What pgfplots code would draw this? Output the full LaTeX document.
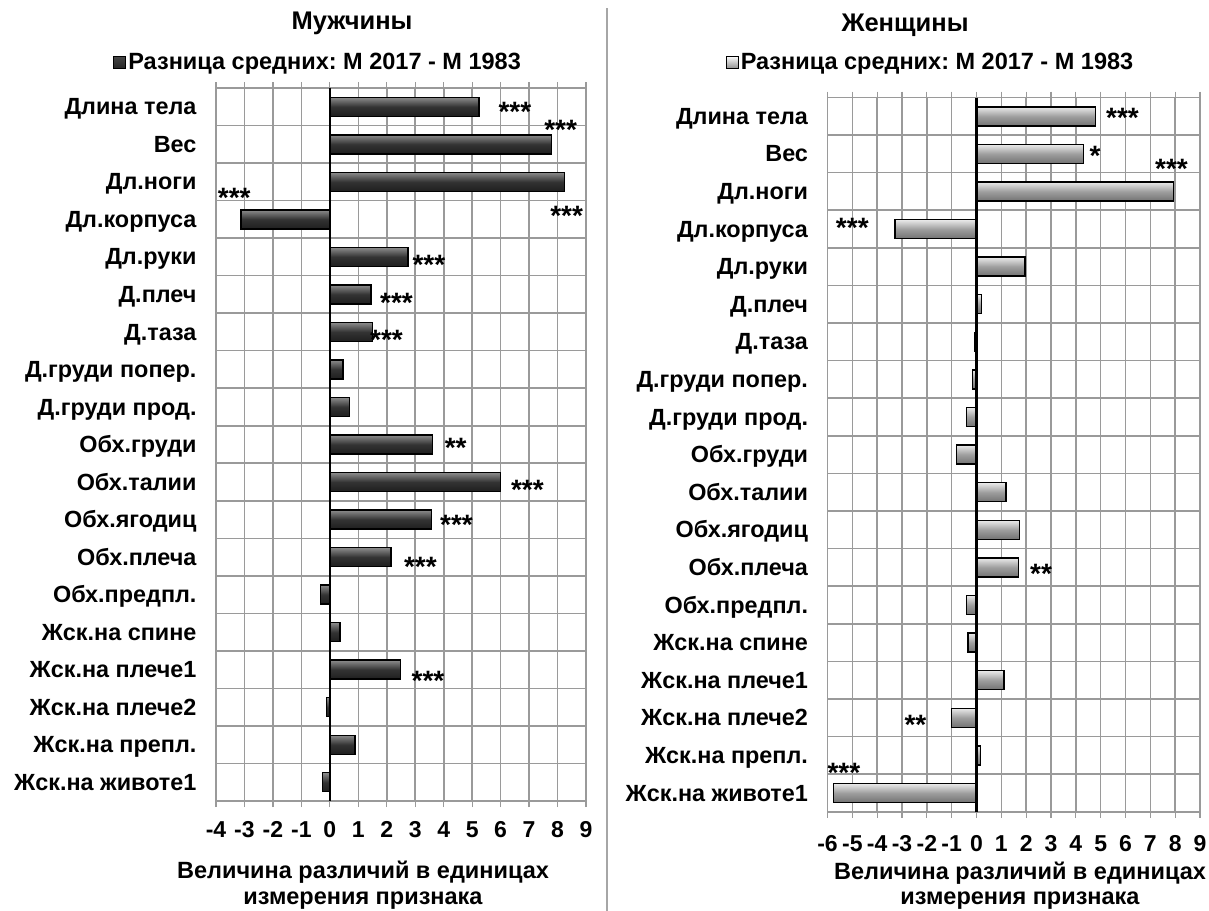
\documentclass[border=0pt]{standalone}
\usepackage{pgfplots}
\pgfplotsset{compat=1.18}
\usepackage{fontspec}
\setmainfont{Liberation Sans}
\frenchspacing
\definecolor{gridc}{HTML}{9A9A9A}
\tikzset{stars/.style={font=\fontsize{28}{30}\selectfont\bfseries, inner sep=0pt}}
\pgfplotsset{
  panel/.style={
    scale only axis,
    ymin=-0.5, ymax=18.5, y dir=reverse,
    ytick={0,...,18},
    yticklabels={Длина тела, Вес, Дл.ноги, Дл.корпуса, Дл.руки, Д.плеч, Д.таза, Д.груди попер., Д.груди прод., Обх.груди, Обх.талии, Обх.ягодиц, Обх.плеча, Обх.предпл., Жск.на спине, Жск.на плече1, Жск.на плече2, Жск.на препл., Жск.на животе1},
    minor y tick num=1, yminorgrids=true, ymajorgrids=false, xmajorgrids=true,
    grid style={gridc, line width=1.6pt},
    minor grid style={gridc, line width=1.6pt},
    axis line style={gridc, line width=1.6pt},
    tick align=outside, major tick length=6pt,
    ytick style={draw=none}, minor tick style={draw=none},
    xtick style={gridc, line width=1.2pt},
    /pgf/number format/assume math mode=true,
    xticklabel style={font=\fontsize{23}{26}\selectfont\bfseries},
    yticklabel style={font=\fontsize{23.4}{26}\selectfont\bfseries, xshift=-10pt, yshift=-4.5pt, text height=0.72em, text depth=0pt},
    legend style={draw=none, fill=none, font=\fontsize{23.5}{26}\selectfont\bfseries, inner sep=0pt},
  },
  lbar/.style={xbar, bar width=19pt, bar shift=0pt, draw=black, line width=1.4pt,
    top color=black!45, bottom color=black!88, middle color=black!80, forget plot},
  rbar/.style={xbar, bar width=19pt, bar shift=0pt, draw=black, line width=1.4pt,
    top color=black!8, bottom color=black!55, middle color=black!38, forget plot},
}
\begin{document}
\begin{tikzpicture}
\path[use as bounding box] (0pt,0pt) rectangle (1209pt,-910pt);
\draw[gray!70, line width=1.5pt] (607pt,-8pt) -- (607pt,-912pt);
\node[font=\fontsize{25.5}{28}\selectfont\bfseries] at (352pt,-23pt) {Мужчины};
\node[font=\fontsize{25.5}{28}\selectfont\bfseries] at (905pt,-25pt) {Женщины};
\node[font=\fontsize{23.5}{26}\selectfont\bfseries, align=center] at (363pt,-885pt) {Величина различий в единицах\\измерения признака};
\node[font=\fontsize{23.5}{25}\selectfont\bfseries, align=center] at (1020pt,-886pt) {Величина различий в единицах\\измерения признака};

\begin{axis}[panel,
  at={(216pt,-801pt)}, anchor=south west,
  width=370pt, height=713pt,
  xmin=-4, xmax=9, xtick={-4,...,9},
  xticklabel style={yshift=-11pt},
  legend style={at={(axis description cs:0.276,1.036)}, anchor=center},
  legend image code/.code={\draw[black, line width=1pt, top color=gray!55!black, bottom color=black!85] (0pt,-6pt) rectangle (12pt,6pt);},
]
\addplot[lbar, forget plot=false] coordinates {(5.24,0)};
\addlegendentry{Разница средних: М 2017 - М 1983}
\addplot[lbar] coordinates {(7.78,1)};
\addplot[lbar] coordinates {(8.25,2)};
\addplot[lbar] coordinates {(-3.12,3)};
\addplot[lbar] coordinates {(2.74,4)};
\addplot[lbar] coordinates {(1.45,5)};
\addplot[lbar] coordinates {(1.50,6)};
\addplot[lbar] coordinates {(0.46,7)};
\addplot[lbar] coordinates {(0.68,8)};
\addplot[lbar] coordinates {(3.61,9)};
\addplot[lbar] coordinates {(5.99,10)};
\addplot[lbar] coordinates {(3.58,11)};
\addplot[lbar] coordinates {(2.15,12)};
\addplot[lbar] coordinates {(-0.32,13)};
\addplot[lbar] coordinates {(0.36,14)};
\addplot[lbar] coordinates {(2.48,15)};
\addplot[lbar] coordinates {(-0.12,16)};
\addplot[lbar] coordinates {(0.88,17)};
\addplot[lbar] coordinates {(-0.26,18)};
\addplot[black, line width=2.6pt, forget plot] coordinates {(0,-0.5) (0,18.5)};
\node[stars] at (axis cs:6.5,0.13) {***};
\node[stars] at (axis cs:8.11,0.61) {***};
\node[stars] at (axis cs:-3.36,2.43) {***};
\node[stars] at (axis cs:8.32,2.91) {***};
\node[stars] at (axis cs:3.48,4.21) {***};
\node[stars] at (axis cs:2.34,5.22) {***};
\node[stars] at (axis cs:1.99,6.21) {***};
\node[stars] at (axis cs:4.42,9.09) {**};
\node[stars] at (axis cs:6.94,10.21) {***};
\node[stars] at (axis cs:4.45,11.15) {***};
\node[stars] at (axis cs:3.18,12.26) {***};
\node[stars] at (axis cs:3.45,15.29) {***};
\end{axis}

\begin{axis}[panel,
  at={(827.5pt,-811.7pt)}, anchor=south west,
  width=372.5pt, height=714.2pt,
  xmin=-6, xmax=9, xtick={-6,...,9},
  xticklabel style={yshift=-14pt},
  legend style={at={(axis description cs:0.2765,1.0497)}, anchor=center},
  legend image code/.code={\draw[black, line width=1pt, top color=white, bottom color=gray!85] (0pt,-6pt) rectangle (12pt,6pt);},
]
\addplot[rbar, forget plot=false] coordinates {(4.8,0)};
\addlegendentry{Разница средних: М 2017 - М 1983}
\addplot[rbar] coordinates {(4.32,1)};
\addplot[rbar] coordinates {(7.93,2)};
\addplot[rbar] coordinates {(-3.29,3)};
\addplot[rbar] coordinates {(1.96,4)};
\addplot[rbar] coordinates {(0.2,5)};
\addplot[rbar] coordinates {(-0.06,6)};
\addplot[rbar] coordinates {(-0.16,7)};
\addplot[rbar] coordinates {(-0.4,8)};
\addplot[rbar] coordinates {(-0.8,9)};
\addplot[rbar] coordinates {(1.18,10)};
\addplot[rbar] coordinates {(1.74,11)};
\addplot[rbar] coordinates {(1.68,12)};
\addplot[rbar] coordinates {(-0.4,13)};
\addplot[rbar] coordinates {(-0.34,14)};
\addplot[rbar] coordinates {(1.1,15)};
\addplot[rbar] coordinates {(-1.0,16)};
\addplot[rbar] coordinates {(0.17,17)};
\addplot[rbar] coordinates {(-5.77,18)};
\addplot[black, line width=2.6pt, forget plot] coordinates {(0,-0.5) (0,18.5)};
\node[stars] at (axis cs:5.88,0.04) {***};
\node[stars] at (axis cs:4.77,1.06) {*};
\node[stars] at (axis cs:7.85,1.40) {***};
\node[stars] at (axis cs:-5.0,2.96) {***};
\node[stars] at (axis cs:2.6,12.16) {**};
\node[stars] at (axis cs:-2.46,16.2) {**};
\node[stars] at (axis cs:-5.34,17.46) {***};
\end{axis}
\end{tikzpicture}
\end{document}
